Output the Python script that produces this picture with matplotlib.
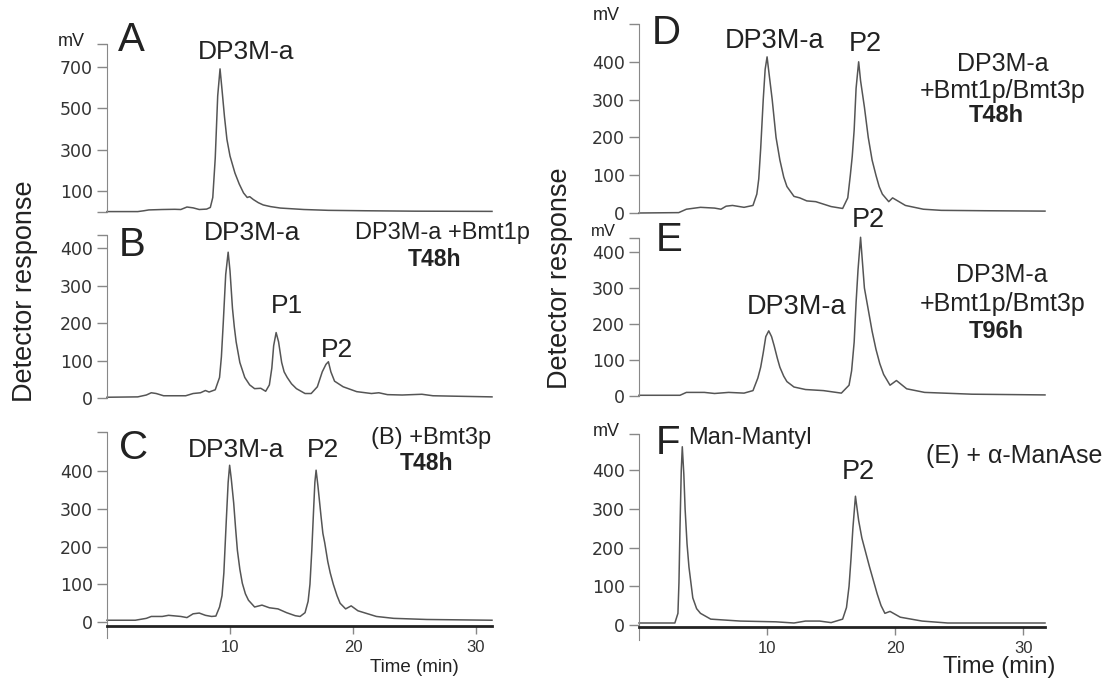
import matplotlib
matplotlib.use("Agg")
import matplotlib.pyplot as plt

plt.rcParams['font.family'] = ['Liberation Sans', 'DejaVu Sans']

W, H = 1109, 681

# chromatogram traces: time (min), response (mV)
a_t = [0, 2.5, 3.0, 3.4, 4.5, 5.5, 6.0, 6.5, 7.0, 7.5, 8.1, 8.4, 8.6, 8.8, 9.0, 9.19,
       9.35, 9.55, 9.75, 10.0, 10.4, 10.75, 11.1, 11.4, 11.6, 11.9, 12.3, 12.7, 13.3,
       14.1, 16, 18, 21, 25, 31.3]
a_mv = [2, 2, 6, 10, 12, 13, 12, 24, 20, 12, 14, 22, 70, 260, 560, 690,
        590, 460, 350, 270, 188, 135, 92, 70, 74, 60, 45, 34, 26,
        19, 12, 8, 6, 4, 3]

b_t = [0, 2.5, 3.2, 3.6, 4.0, 4.6, 6.4, 7.0, 7.6, 8.0, 8.3, 8.8, 9.15, 9.3, 9.45, 9.65,
       9.85, 10.0, 10.2, 10.35, 10.5, 10.8, 11.2, 11.6, 12.0, 12.5, 12.9, 13.2, 13.4,
       13.55, 13.75, 13.95, 14.2, 14.4, 14.65, 15.0, 15.4, 16.1, 16.6, 17.1, 17.5, 17.8,
       18.0, 18.2, 18.5, 19.2, 20.3, 21.5, 22.1, 22.8, 24, 25.6, 26.5, 28, 31.3]
b_mv = [2, 3, 8, 14, 12, 6, 6, 12, 14, 20, 16, 22, 55, 110, 200, 330,
        390, 340, 240, 190, 150, 95, 55, 35, 25, 26, 18, 35, 80,
        140, 175, 150, 95, 70, 55, 38, 25, 12, 12, 30, 70, 90,
        97, 70, 45, 30, 17, 12, 14, 9, 8, 10, 6, 5, 3]

c_t = [0, 2.3, 3.2, 3.6, 4.5, 5.0, 6.0, 6.5, 7.0, 7.5, 8.0, 8.5, 8.85, 9.15, 9.35, 9.5,
       9.7, 9.85, 9.97, 10.1, 10.3, 10.45, 10.6, 10.8, 11.0, 11.25, 11.5, 12.0, 12.6,
       13.2, 13.9, 14.6, 15.3, 15.7, 16.1, 16.35, 16.5, 16.65, 16.8, 16.9, 17.0, 17.15,
       17.4, 17.55, 17.7, 17.95, 18.15, 18.4, 18.7, 18.95, 19.4, 19.85, 20.4, 21.9,
       23.3, 26, 31.3]
c_mv = [5, 5, 10, 15, 15, 18, 15, 12, 22, 24, 18, 15, 16, 40, 70, 130,
        270, 370, 415, 380, 315, 250, 190, 140, 103, 75, 58, 40, 45,
        38, 35, 25, 17, 15, 25, 55, 100, 190, 300, 370, 402, 360,
        280, 235, 210, 160, 130, 100, 70, 50, 35, 43, 30, 15,
        10, 7, 5]

d_t = [0, 3.1, 3.7, 4.8, 5.9, 6.4, 6.8, 7.3, 8.2, 8.9, 9.2, 9.35, 9.5, 9.7, 9.85, 10.0,
       10.15, 10.4, 10.7, 11.0, 11.3, 11.55, 12.1, 12.55, 13.1, 13.8, 15.0, 15.9, 16.3,
       16.5, 16.65, 16.8, 16.95, 17.15, 17.3, 17.6, 17.9, 18.2, 18.5, 18.75, 19.0, 19.5,
       19.8, 20.8, 22.2, 23.6, 27, 31.7]
d_mv = [0, 1, 10, 15, 13, 10, 18, 20, 15, 20, 50, 90, 170, 300, 380, 413,
        370, 300, 200, 140, 95, 70, 44, 40, 32, 30, 17, 12, 40,
        100, 150, 220, 330, 400, 350, 280, 200, 140, 100, 70, 50, 30,
        40, 20, 10, 7, 6, 5]

e_t = [0, 3.2, 3.7, 5.1, 5.9, 7.0, 8.2, 8.9, 9.28, 9.5, 9.7, 9.9, 10.13, 10.35, 10.55,
       10.8, 11.0, 11.3, 11.55, 12.1, 13.0, 14.4, 15.8, 16.4, 16.6, 16.8, 16.95, 17.1,
       17.3, 17.45, 17.6, 17.9, 18.2, 18.5, 18.8, 19.1, 19.6, 20.1, 20.9, 22.3, 26, 31.7]
e_mv = [2, 2, 10, 10, 7, 10, 8, 15, 50, 80, 120, 165, 181, 165, 140,
        105, 80, 55, 40, 25, 18, 15, 8, 30, 70, 150, 260, 350,
        441, 370, 300, 240, 180, 130, 90, 60, 30, 43, 20, 10, 5, 3]

f_t = [0, 2.8, 3.04, 3.12, 3.2, 3.3, 3.38, 3.5, 3.6, 3.75, 3.9, 4.2, 4.5, 4.8, 5.6, 7.9,
       10.7, 12.1, 13.0, 14.1, 15.0, 15.9, 16.2, 16.4, 16.55, 16.7, 16.9, 17.15, 17.4,
       17.6, 18.0, 18.3, 18.6, 18.9, 19.2, 19.6, 20.4, 22.1, 24.1, 31.7]
f_mv = [5, 5, 30, 110, 250, 400, 461, 390, 300, 210, 150, 70, 42, 30, 15, 10,
        8, 5, 10, 10, 6, 15, 45, 100, 170, 250, 333, 270, 225,
        200, 150, 115, 80, 50, 30, 35, 20, 10, 5, 5]

a_ticks = [100, 300, 500, 700]
std_ticks = [0, 100, 200, 300, 400]
time_ticks = [10, 20, 30]


def box(x0, x1, ytop, ybot):
    return [x0 / W, 1 - ybot / H, (x1 - x0) / W, (ybot - ytop) / H]


def ftext(x, y, s, size, **kw):
    fig.text(x / W, 1 - y / H, s, fontsize=size, ha=kw.pop('ha', 'center'),
             va=kw.pop('va', 'center'), color='#222', **kw)


fig = plt.figure(figsize=(W / 100, H / 100), dpi=100)

# panel: trace, pixel box, x max, y range, labelled ticks, x axis position (None = hidden)
panels = [
    (a_t, a_mv, (107, 492, 44, 212), 31.3, (0, 810), a_ticks, [0, 810], None),
    (b_t, b_mv, (107, 492, 235, 398), 31.3, (0, 436), std_ticks, [436], None),
    (c_t, c_mv, (107, 492, 432, 638), 31.3, (-42, 503), std_ticks, [503], -10),
    (d_t, d_mv, (639, 1045, 24, 213), 31.7, (0, 500), std_ticks, [500], None),
    (e_t, e_mv, (639, 1045, 238, 396), 31.7, (0, 439), std_ticks, [439], None),
    (f_t, f_mv, (639, 1045, 434, 640), 31.7, (-39, 494), std_ticks, [494], -5),
]

for t, mv, pb, xmax, ylim, ticks, extra, xaxis in panels:
    ax = fig.add_axes(box(*pb))
    ax.plot(t, mv, color='#555555', lw=1.1, clip_on=False)
    ax.set_xlim(0, xmax)
    ax.set_ylim(*ylim)
    ax.patch.set_visible(False)
    for sp in ('top', 'right'):
        ax.spines[sp].set_visible(False)
    ax.spines['left'].set_color('#888888')
    ax.set_yticks(ticks)
    ax.set_yticks(extra, minor=True)
    ax.tick_params(axis='y', which='both', direction='out', length=7, width=1,
                   color='#888888', pad=3, labelsize=12.5, labelcolor='#333333')
    for lab in ax.get_yticklabels():
        lab.set_fontfamily('DejaVu Sans')
    if xaxis is None:
        ax.spines['bottom'].set_visible(False)
        ax.tick_params(axis='x', bottom=False, labelbottom=False)
    else:
        ax.spines['bottom'].set_position(('data', xaxis))
        ax.spines['bottom'].set_linewidth(2)
        ax.spines['bottom'].set_color('#222222')
        ax.set_xticks(time_ticks)
        ax.tick_params(axis='x', direction='out', length=6, width=1, color='#888888',
                       pad=4, labelsize=12, labelcolor='#333333')
        for lab in ax.get_xticklabels():
            lab.set_fontfamily(['Liberation Sans Narrow', 'Liberation Sans'])

# axis titles
ftext(25, 291, 'Detector response', 19.5, rotation=90)
ftext(560, 278, 'Detector response', 19.5, rotation=90)
ftext(414, 668, 'Time (min)', 13.5)
ftext(999, 667, 'Time (min)', 17)

# mV units
for x, y, fs in [(71, 42, 13), (606, 16, 13), (603, 232, 12), (606, 431, 13)]:
    ftext(x, y, 'mV', fs)

# panel letters
for x, y, s in [(131, 40, 'A'), (132, 245, 'B'), (134, 448, 'C'),
                (666, 33, 'D'), (669, 240, 'E'), (668, 443, 'F')]:
    ftext(x, y, s, 29)

# peak labels
ftext(246, 52, 'DP3M-a', 19)
ftext(252, 233, 'DP3M-a', 19)
ftext(287, 306, 'P1', 19)
ftext(337, 350, 'P2', 19)
ftext(236, 450, 'DP3M-a', 19)
ftext(323, 450, 'P2', 19)
ftext(775, 41, 'DP3M-a', 19.5)
ftext(865, 44, 'P2', 19.5)
ftext(868, 220, 'P2', 19.5)
ftext(797, 307, 'DP3M-a', 19.5)
ftext(750, 438, 'Man-Mantyl', 17)
ftext(858, 472, 'P2', 19.5)

# conditions
ftext(442, 233, 'DP3M-a +Bmt1p', 17)
ftext(434, 259, 'T48h', 16.5, fontweight='bold')
ftext(431, 438, '(B) +Bmt3p', 17)
ftext(426, 463, 'T48h', 16.5, fontweight='bold')
ftext(1003, 64, 'DP3M-a', 18)
ftext(1003, 91, '+Bmt1p/Bmt3p', 18)
ftext(996, 116, 'T48h', 17, fontweight='bold')
ftext(1002, 275, 'DP3M-a', 18)
ftext(1003, 304, '+Bmt1p/Bmt3p', 18)
ftext(996, 332, 'T96h', 17, fontweight='bold')
ftext(1014, 456, '(E) + α-ManAse', 18)

fig.savefig('out.png', dpi=100)
